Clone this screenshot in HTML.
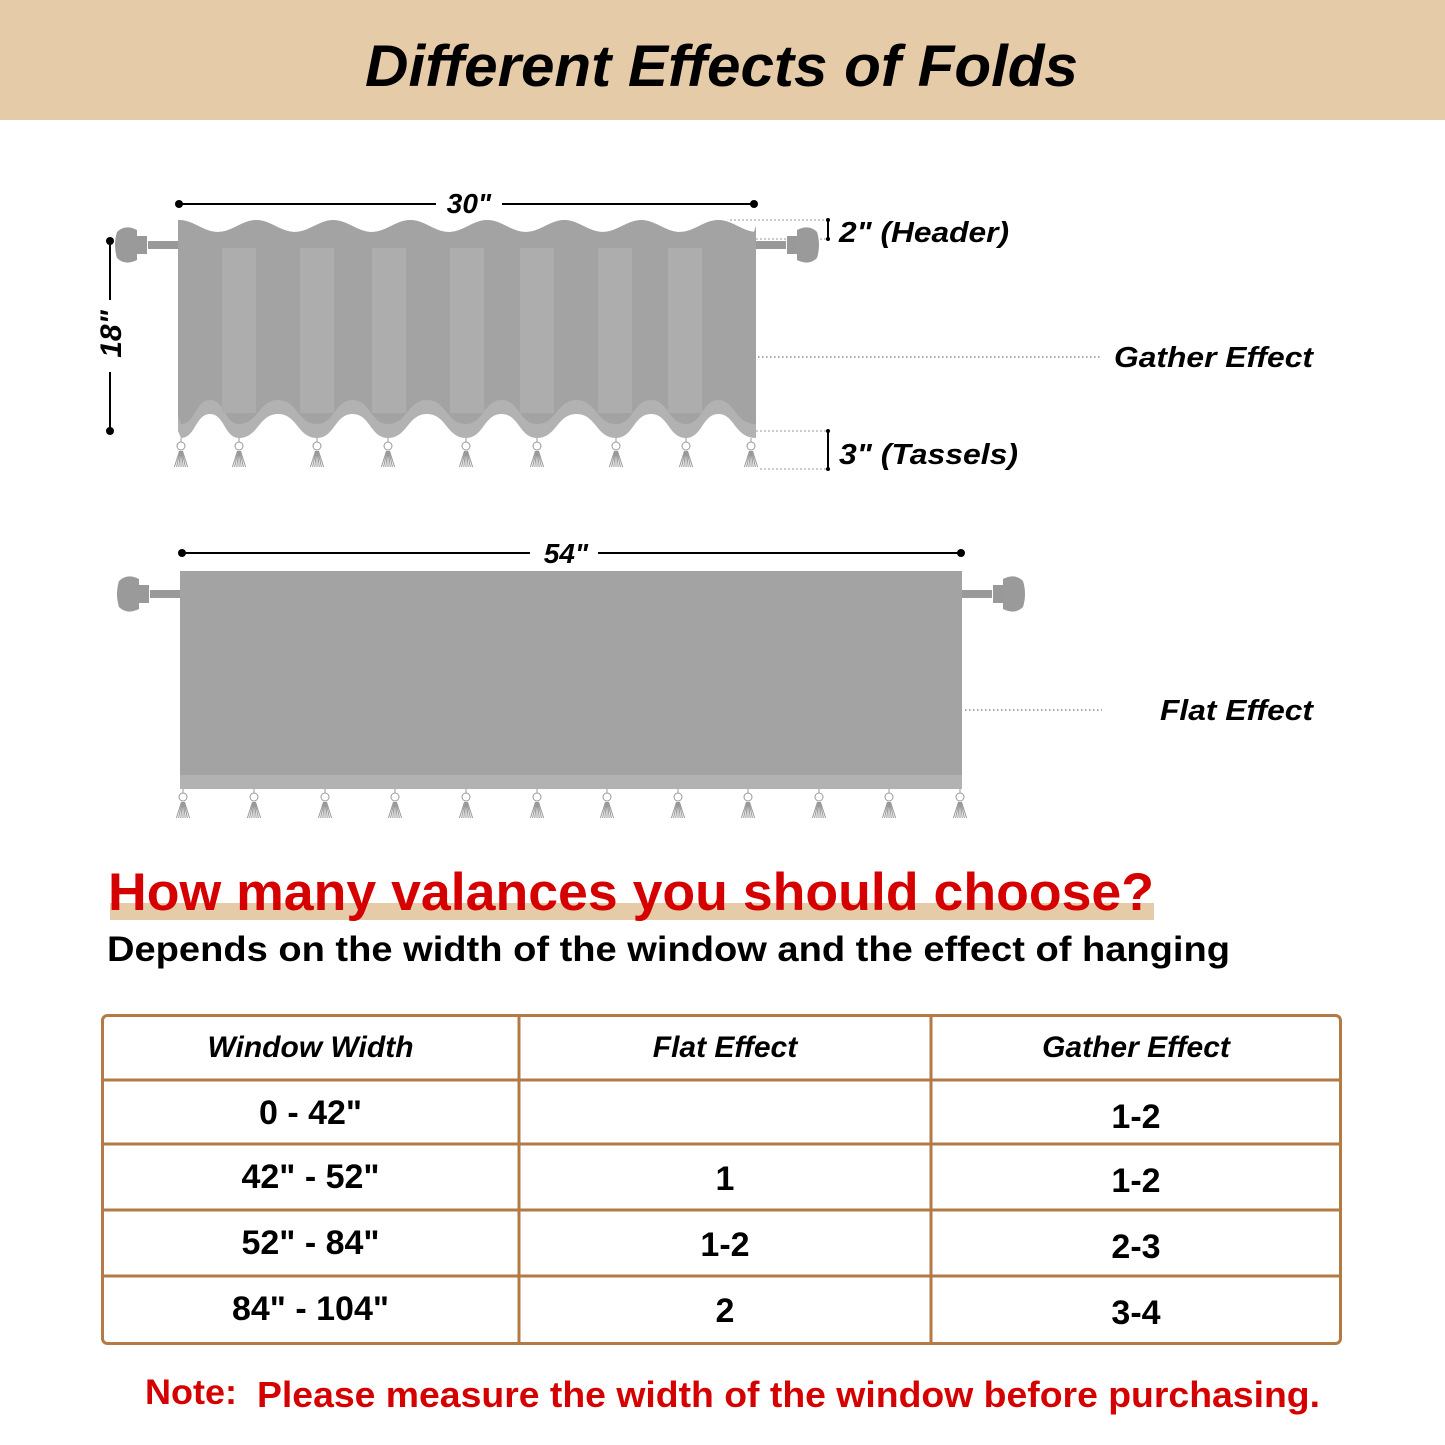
<!DOCTYPE html>
<html><head><meta charset="utf-8"><style>
body{margin:0;background:#fff;}
svg{display:block;}
text{font-family:"Liberation Sans",sans-serif;}
</style></head><body>
<svg id="s" width="1445" height="1445" viewBox="0 0 1445 1445" xmlns="http://www.w3.org/2000/svg">
<rect x="0" y="0" width="1445" height="120" fill="#e6cba9"/>
<text x="365" y="86" textLength="713" lengthAdjust="spacingAndGlyphs" font-size="58" font-weight="bold" font-style="italic" fill="#000">Different Effects of Folds</text>

<g id="gather"></g>
<g id="flat"></g>

<g>
<line x1="179" y1="204" x2="436" y2="204" stroke="#000" stroke-width="2"/>
<line x1="502" y1="204" x2="754" y2="204" stroke="#000" stroke-width="2"/>
<circle cx="179" cy="204" r="4"/><circle cx="754" cy="204" r="4"/>
<text x="469" y="213" text-anchor="middle" font-size="28" font-weight="bold" font-style="italic">30"</text>
</g>
<g>
<line x1="110" y1="241" x2="110" y2="300" stroke="#000" stroke-width="2"/>
<line x1="110" y1="372" x2="110" y2="431" stroke="#000" stroke-width="2"/>
<circle cx="110" cy="241" r="4"/><circle cx="110" cy="431" r="4"/>
<text transform="translate(121,334) rotate(-90)" text-anchor="middle" font-size="30" font-weight="bold" font-style="italic">18"</text>
</g>
<g>
<line x1="730" y1="220" x2="828" y2="220" stroke="#999" stroke-dasharray="2,2"/>
<line x1="756" y1="239" x2="828" y2="239" stroke="#999" stroke-dasharray="2,2"/>
<line x1="828" y1="220" x2="828" y2="239" stroke="#000" stroke-width="2"/>
<circle cx="828" cy="220" r="2"/><circle cx="828" cy="239" r="2"/>
<text x="839" y="242" textLength="170" lengthAdjust="spacingAndGlyphs" font-size="29" font-weight="bold" font-style="italic">2" (Header)</text>
</g>
<g>
<line x1="756" y1="431" x2="828" y2="431" stroke="#999" stroke-dasharray="2,2"/>
<line x1="760" y1="469" x2="828" y2="469" stroke="#999" stroke-dasharray="2,2"/>
<line x1="828" y1="431" x2="828" y2="469" stroke="#000" stroke-width="2"/>
<circle cx="828" cy="431" r="2"/><circle cx="828" cy="469" r="2"/>
<text x="839" y="464" textLength="179" lengthAdjust="spacingAndGlyphs" font-size="29" font-weight="bold" font-style="italic">3" (Tassels)</text>
</g>
<line x1="758" y1="357" x2="1102" y2="357" stroke="#555" stroke-dasharray="1.5,2.5"/>
<text x="1114" y="367" textLength="199" lengthAdjust="spacingAndGlyphs" font-size="29" font-weight="bold" font-style="italic">Gather Effect</text>

<g>
<line x1="182" y1="553" x2="530" y2="553" stroke="#000" stroke-width="2"/>
<line x1="598" y1="553" x2="961" y2="553" stroke="#000" stroke-width="2"/>
<circle cx="182" cy="553" r="4"/><circle cx="961" cy="553" r="4"/>
<text x="566" y="563" text-anchor="middle" font-size="28" font-weight="bold" font-style="italic">54"</text>
</g>
<line x1="965" y1="710" x2="1102" y2="710" stroke="#555" stroke-dasharray="1.5,2.5"/>
<text x="1160" y="720" textLength="153" lengthAdjust="spacingAndGlyphs" font-size="29" font-weight="bold" font-style="italic">Flat Effect</text>

<rect x="110" y="903" width="1044" height="17" fill="#e6cba9"/>
<text x="108" y="910" textLength="1046" lengthAdjust="spacingAndGlyphs" font-size="53" font-weight="bold" fill="#d50000">How many valances you should choose?</text>
<text x="107" y="961" textLength="1123" lengthAdjust="spacingAndGlyphs" font-size="35" font-weight="bold" fill="#000">Depends on the width of the window and the effect of hanging</text>

<g id="table">
<rect x="102.5" y="1015.5" width="1238" height="328" rx="5" fill="#fff" stroke="#b47a45" stroke-width="3"/>
</g>

<text x="145" y="1404" textLength="92" lengthAdjust="spacingAndGlyphs" font-size="35" font-weight="bold" fill="#d50000">Note:</text>
<text x="257" y="1407" textLength="1063" lengthAdjust="spacingAndGlyphs" font-size="36" font-weight="bold" fill="#d50000">Please measure the width of the window before purchasing.</text>
</svg>
<script>
const headers=["Window Width","Flat Effect","Gather Effect"];
const widths=['0 - 42"','42" - 52"','52" - 84"','84" - 104"'];
const flatVals=["","1","1-2","2"];
const gatherVals=["1-2","1-2","2-3","3-4"];
const gatherTassels=[181,239,317,388,466,537,616,686,751];
const flatTassels=[183,254,325,395,466,537,607,678,748,819,889,960];

const NS="http://www.w3.org/2000/svg";
function mk(tag,attrs,parent){const e=document.createElementNS(NS,tag);for(const k in attrs)e.setAttribute(k,attrs[k]);parent.appendChild(e);return e;}

function rodEnd(g,x,y,dir){
  const r=mk('g',{},g);
  
  
  mk('rect',{x:dir<0?x-30:x,y:y-4,width:30,height:8,fill:'#999'},r);
  const fx=x+dir*36;
  mk('rect',{x:fx-5,y:y-9,width:10,height:18,fill:'#999'},r);
  mk('path',{d:`M${fx+dir*5} ${y-15} q${dir*12} -6 ${dir*20} 2 q${dir*4} 13 0 26 q${-dir*8} 8 ${-dir*20} 2 z`,fill:'#9a9a9a'},r);
}
function tassel(g,x,y){
  const t=mk('g',{stroke:'#999',fill:'none','stroke-width':1},g);
  
  
  mk('circle',{cx:x,cy:y+8,r:4},t);
  mk('line',{x1:x,y1:y,x2:x,y2:y+4},t);
  for(let i=-3;i<=3;i++) mk('line',{x1:x+i*0.5,y1:y+13,x2:x+i*2.2,y2:y+29},t);
}
function bottomWave(lowY,highY){
  let d='';
  for(let i=gatherTassels.length-1;i>0;i--){
    const a=gatherTassels[i],b=gatherTassels[i-1],m=(a+b)/2,q=(a-b)/4;
    d+=`C${a-q} ${lowY} ${m+q} ${highY} ${m} ${highY} C${m-q} ${highY} ${b+q} ${lowY} ${b} ${lowY} `;
  }
  return d;
}
const G=document.getElementById('gather');
rodEnd(G,178,245,-1);rodEnd(G,756,245,1);
let topEdge='M178 226 ';
for(let x=178;x<=756;x+=4){topEdge+=`L${x} ${226+6*Math.sin((x-160)/77*2*Math.PI+Math.PI)} `;}
mk('path',{d:topEdge+'L756 226 L756 438 '+bottomWave(438,414)+'L178 431 Z',fill:'#b2b2b2'},G);
mk('path',{d:topEdge+'L756 226 L756 424 '+bottomWave(424,400)+'L178 416 Z',fill:'#a3a3a3'},G);
[[222,256],[300,334],[372,406],[450,484],[520,554],[598,632],[668,702]].forEach(s=>{
  const st=mk('rect',{x:s[0],y:248,width:s[1]-s[0],height:165,fill:'#adadad'},G);
  
  
});
gatherTassels.forEach(x=>tassel(G,x,438));
const F=document.getElementById('flat');
rodEnd(F,180,594,-1);rodEnd(F,962,594,1);
mk('rect',{x:180,y:571,width:782,height:204,fill:'#a3a3a3'},F);
mk('rect',{x:180,y:775,width:782,height:14,fill:'#b2b2b2'},F);
flatTassels.forEach(x=>tassel(F,x,789));
const T=document.getElementById('table');
const rowY=[1015,1080,1144,1210,1276,1344];
const colX=[102,519,931,1341];
for(let i=1;i<rowY.length-1;i++) mk('line',{x1:102,y1:rowY[i],x2:1341,y2:rowY[i],stroke:'#b47a45','stroke-width':3},T);
[519,931].forEach(x=>mk('line',{x1:x,y1:1015,x2:x,y2:1344,stroke:'#b47a45','stroke-width':3},T));
headers.forEach((h,i)=>{
  const t=mk('text',{x:(colX[i]+colX[i+1])/2,y:1057,'text-anchor':'middle','font-size':30,'font-weight':'bold','font-style':'italic'},T);
  t.textContent=h;
  
  
});
widths.forEach((w,r)=>{
  const cols=[w,flatVals[r],gatherVals[r]];
  cols.forEach((v,c)=>{
    const yoff=c===0?0:(c===1?2:4);
    const t=mk('text',{x:(colX[c]+colX[c+1])/2,y:rowY[r+1]+44+yoff,'text-anchor':'middle','font-size':34,'font-weight':'bold'},T);
    t.textContent=v;
    
    
  });
});
</script>
</body></html>
